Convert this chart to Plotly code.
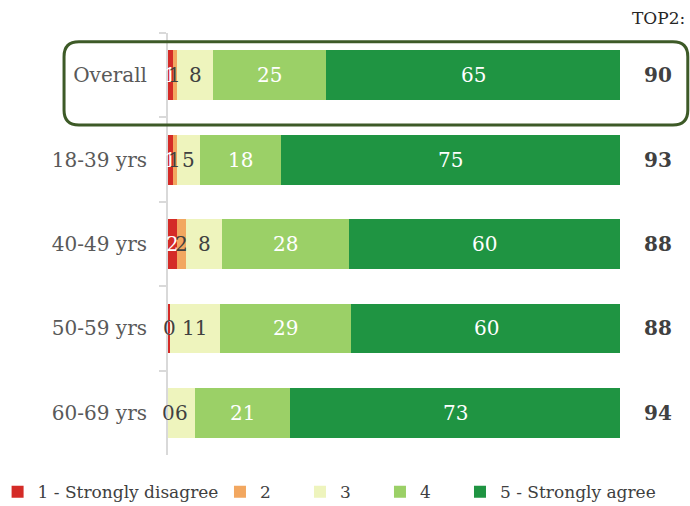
import plotly.graph_objects as go
import numpy as np

categories = ["Overall", "18-39 yrs", "40-49 yrs", "50-59 yrs", "60-69 yrs"]
series_names = ["1 - Strongly disagree", "2", "3", "4", "5 - Strongly agree"]
v1 = [1, 1, 2, 0.4, 0]
v2 = [1, 1, 2, 0, 0]
v3 = [8, 5, 8, 11, 6]
v4 = [25, 18, 28, 29, 21]
v5 = [65, 75, 60, 60, 73]
top2 = [90, 93, 88, 88, 94]

colors = ["#d42b27", "#f2a760", "#eef4bd", "#9bd067", "#1f9442"]
label_colors = ["white", "#404040", "#404040", "white", "white"]
legend_ids = ["legend", "legend2", "legend2", "legend2", "legend3"]
series = [v1, v2, v3, v4, v5]
FONT = "DejaVu Serif"

fig = go.Figure()
for i, (name, vals) in enumerate(zip(series_names, series)):
    fig.add_trace(go.Bar(
        y=categories, x=vals, name=name, orientation="h",
        marker=dict(color=colors[i], line=dict(width=0)),
        width=0.59, hoverinfo="skip",
        legend=legend_ids[i],
    ))

annotations = []
cum = np.zeros(len(categories))
for i, vals in enumerate(series):
    vals = np.array(vals, dtype=float)
    mids = cum + vals / 2
    for c, m, v in zip(categories, mids, vals):
        annotations.append(dict(
            x=m, y=c, xref="x", yref="y", text=f"{v:.0f}", showarrow=False,
            font=dict(family=FONT, size=20, color=label_colors[i]),
            xanchor="center", yanchor="middle"))
    cum += vals

for c, t in zip(categories, top2):
    annotations.append(dict(
        x=1.085, y=c, xref="paper", yref="y", text=f"<b>{t}</b>", showarrow=False,
        font=dict(family=FONT, size=20, color="#404040"), xanchor="center", yanchor="middle"))

annotations.append(dict(x=1.085, y=1.036, xref="paper", yref="paper", text="TOP2:",
                        showarrow=False, font=dict(family=FONT, size=17, color="#262626"),
                        xanchor="center", yanchor="middle"))

# rounded highlight box around "Overall" (paper coordinates)
x0, x1 = -0.230, 1.150
y0, y1 = 0.782, 0.979
rx, ry = 0.033, 0.035
path = (f"M{x0+rx},{y1} L{x1-rx},{y1} Q{x1},{y1} {x1},{y1-ry} L{x1},{y0+ry} "
        f"Q{x1},{y0} {x1-rx},{y0} L{x0+rx},{y0} Q{x0},{y0} {x0},{y0+ry} "
        f"L{x0},{y1-ry} Q{x0},{y1} {x0+rx},{y1} Z")

leg_common = dict(orientation="h", y=-0.088, xanchor="left", yanchor="middle",
                  font=dict(family=FONT, size=17, color="#404040"), itemclick=False,
                  bgcolor="rgba(0,0,0,0)", traceorder="normal")

fig.update_layout(
    width=690, height=506,
    margin=dict(l=168, r=70, t=33, b=51, autoexpand=False),
    barmode="stack",
    plot_bgcolor="white", paper_bgcolor="white",
    font=dict(family=FONT, color="#595959"),
    xaxis=dict(range=[0, 100], visible=False, fixedrange=True),
    yaxis=dict(autorange="reversed", showline=True, linecolor="#d9d9d9", linewidth=2,
               ticks="outside", tickson="boundaries", ticklen=7, tickcolor="#d9d9d9",
               tickwidth=2, ticklabelstandoff=15, automargin=False, fixedrange=True,
               tickfont=dict(family=FONT, size=20, color="#595959"), showgrid=False),
    annotations=annotations,
    shapes=[dict(type="path", path=path, xref="paper", yref="paper",
                 line=dict(color="#3d5a27", width=3), layer="above")],
    legend=dict(x=-0.377, **leg_common),
    legend2=dict(x=0.115, entrywidth=35, entrywidthmode="pixels", **leg_common),
    legend3=dict(x=0.646, **leg_common),
    showlegend=True,
)

fig.write_html("out.html", config={"displayModeBar": False},
               post_script="document.body.style.margin='0';")
